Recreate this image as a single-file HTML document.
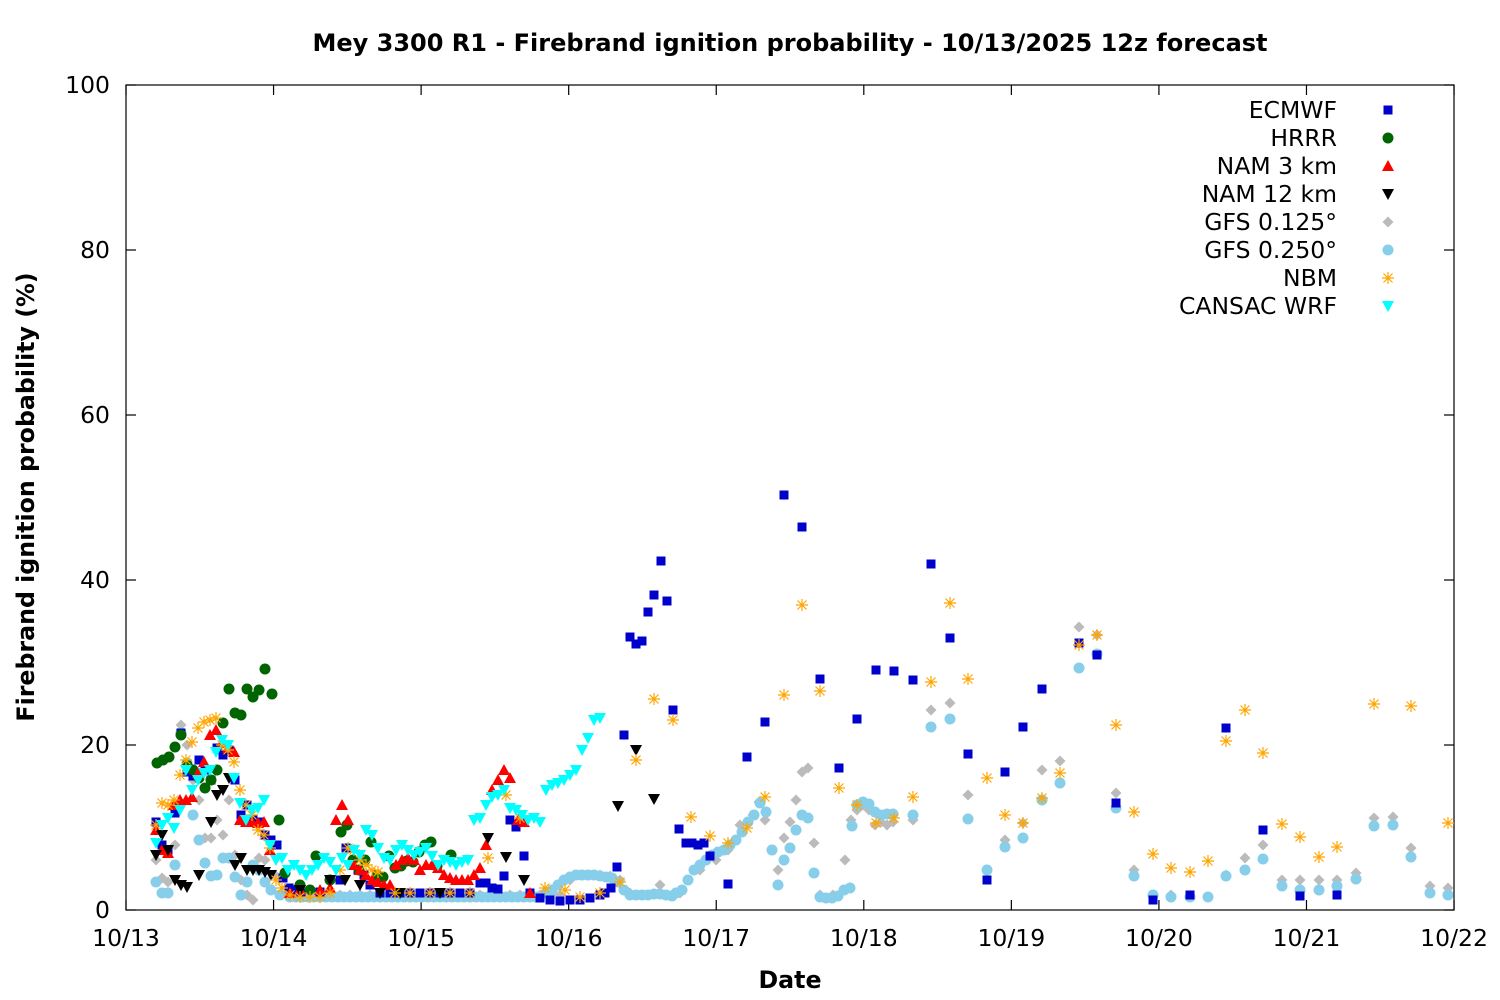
<!DOCTYPE html>
<html><head><meta charset="utf-8"><style>
html,body{margin:0;padding:0;background:#fff}
svg{display:block;font-family:"DejaVu Sans","Liberation Sans",sans-serif}
</style></head><body>
<svg id="s" width="1500" height="1000" xmlns="http://www.w3.org/2000/svg">
<rect width="1500" height="1000" fill="#fff"/>
<text x="790" y="51" text-anchor="middle" font-size="24" font-weight="bold">Mey 3300 R1 - Firebrand ignition probability - 10/13/2025 12z forecast</text>
<text x="790" y="988" text-anchor="middle" font-size="23.7" font-weight="bold">Date</text>
<text transform="translate(34,497) rotate(-90)" text-anchor="middle" font-size="23.7" font-weight="bold">Firebrand ignition probability (%)</text>
<g id="ax" stroke="#000" stroke-width="1.2" fill="none"></g>
<g id="lab" font-size="23.5"></g>
<g id="pts"></g>
<g id="leg" font-size="23.5" text-anchor="end"></g>
</svg>
<script>
const NS="http://www.w3.org/2000/svg";
function el(p,t,a,txt){const e=document.createElementNS(NS,t);for(const k in a)e.setAttribute(k,a[k]);if(txt!==undefined)e.textContent=txt;document.getElementById(p).appendChild(e);return e;}
const L=126,R=1454,T=85,B=910;
el("ax","rect",{x:L,y:T,width:R-L,height:B-T});
for(let i=0;i<=5;i++){const y=B-i*165;
 el("ax","line",{x1:L,y1:y,x2:L+10,y2:y});el("ax","line",{x1:R,y1:y,x2:R-10,y2:y});
 el("lab","text",{x:110,y:y+8,"text-anchor":"end"},String(i*20));}
const days=["10/13","10/14","10/15","10/16","10/17","10/18","10/19","10/20","10/21","10/22"];
for(let i=0;i<10;i++){const x=L+i*147.56;
 el("ax","line",{x1:x,y1:B,x2:x,y2:B-10});el("ax","line",{x1:x,y1:T,x2:x,y2:T+10});
 el("lab","text",{x:x,y:946,"text-anchor":"middle"},days[i]);}
function mk(g,type,c,x,y){
 if(type=="sq")el(g,"rect",{x:x-4.5,y:y-4.5,width:9,height:9,fill:c});
 else if(type=="ci")el(g,"circle",{cx:x,cy:y,r:5.5,fill:c});
 else if(type=="up")el(g,"polygon",{points:`${x},${y-6} ${x-6},${y+5} ${x+6},${y+5}`,fill:c});
 else if(type=="dn")el(g,"polygon",{points:`${x},${y+6} ${x-6},${y-5} ${x+6},${y-5}`,fill:c});
 else if(type=="di")el(g,"polygon",{points:`${x},${y-5.5} ${x+5.5},${y} ${x},${y+5.5} ${x-5.5},${y}`,fill:c});
 else if(type=="as")el(g,"path",{d:`M${x-6} ${y}H${x+6}M${x} ${y-6}V${y+6}M${x-4.5} ${y-4.5}L${x+4.5} ${y+4.5}M${x-4.5} ${y+4.5}L${x+4.5} ${y-4.5}`,stroke:c,"stroke-width":1.2,fill:"none"});
}
function P(s){const a=s.trim().split(/\s+/).map(Number);const r=[];for(let i=0;i<a.length;i+=2)r.push([a[i],a[i+1]]);return r;}
const flat=(x0,x1,y,st)=>{let s="";for(let x=x0;x<=x1;x+=st)s+=x+" "+y+" ";return s;};
const S=[
["gray","di","#bbbbbb",P(`156 860 162 878 168 882 175 845 181 725 187 745 193 780 199 800 205 838 211 838 217 820 223 835 229 800 235 855 241 880 247 895 253 900 259 858 265 860 275 875 290 893 `+flat(300,560,895,10)+` 570 880 580 875 590 875 600 875 610 876 620 880 630 893 660 885 680 893 700 870 716 860 728 850 740 825 753 815 759 802 765 820 772 850 778 870 784 838 790 822 796 800 802 772 808 768 814 843 820 895 833 895 845 860 851 820 857 810 863 805 869 810 875 825 881 822 887 825 893 822 913 820 931 710 950 703 968 795 987 870 1005 840 1023 823 1042 770 1060 761 1079 627 1097 635 1116 793 1134 870 1153 895 1171 895 1190 897 1208 897 1226 875 1245 858 1263 845 1282 880 1300 880 1319 880 1337 880 1356 873 1374 818 1393 817 1411 848 1430 886 1448 888`)],
["lb","ci","#87ceeb",P(`156 882 162 893 168 893 175 865 181 733 187 763 193 815 199 840 205 863 211 876 217 875 223 858 229 858 235 877 241 895 247 882 253 865 259 870 265 882 271 890 280 895 `+flat(290,540,897,6)+` 546 893 552 890 558 885 564 880 570 877 576 875 582 875 588 875 594 875 600 876 606 877 612 878 618 882 624 890 630 895 636 895 642 895 648 895 654 894 660 894 666 895 672 896 676 893 682 890 688 880 694 870 700 865 706 860 712 855 718 852 724 850 730 845 736 840 742 832 748 822 754 815 760 803 766 812 772 850 778 885 784 860 790 848 796 830 802 815 808 818 814 873 820 897 826 898 832 898 838 896 844 890 850 888 852 826 857 805 863 802 869 804 875 812 881 815 887 814 893 814 913 815 931 727 950 719 968 819 987 870 1005 847 1023 838 1042 800 1060 783 1079 668 1097 654 1116 808 1134 876 1153 895 1171 897 1190 897 1208 897 1226 876 1245 870 1263 859 1282 886 1300 890 1319 890 1337 886 1356 879 1374 826 1393 825 1411 857 1430 893 1448 895`)],
["blue","sq","#0000cc",P(`156 822 162 845 168 850 175 813 181 733 187 772 193 776 199 760 205 770 211 780 217 748 223 755 229 750 235 780 241 815 247 805 253 820 259 822 265 835 271 840 277 845 283 878 289 888 295 890 301 893 320 892 340 880 346 848 352 865 358 870 364 875 370 885 380 893 `+flat(390,470,893,10)+` 480 883 486 883 492 888 498 889 504 876 510 820 516 827 524 856 530 893 540 898 550 900 560 901 570 900 580 900 590 898 600 895 605 893 611 888 617 867 624 735 630 637 636 644 642 641 648 612 654 595 661 561 667 601 673 710 679 829 686 843 692 843 698 845 704 843 710 856 728 884 747 757 765 722 784 495 802 527 820 679 839 768 857 719 876 670 894 671 913 680 931 564 950 638 968 754 987 880 1005 772 1023 727 1042 689 1079 643 1097 655 1116 803 1153 900 1190 895 1226 728 1263 830 1300 896 1337 895`)],
["green","ci","#006400",P(`157 763 163 760 169 757 175 747 181 735 187 765 193 770 199 778 205 788 211 780 217 770 223 723 229 689 235 713 241 715 247 689 253 697 259 690 265 669 272 694 279 820 285 873 300 885 310 890 316 856 330 880 341 832 347 825 353 860 359 870 365 860 371 842 377 875 383 877 389 856 395 868 401 866 407 861 413 862 419 852 425 845 431 842 437 866 451 855`)],
["red","up","#ff0000",P(`156 830 162 850 168 853 174 805 180 800 186 800 192 797 198 773 204 762 210 735 216 730 222 743 228 748 234 752 240 820 246 822 252 822 258 823 264 822 270 850 290 893 300 890 320 890 330 888 336 820 342 805 348 820 354 865 360 870 366 875 372 880 378 882 384 885 390 885 396 865 402 860 408 858 414 860 420 870 426 865 432 865 438 868 444 875 450 878 456 880 462 880 468 880 474 875 480 868 486 845 492 790 498 780 504 770 510 778 518 820 524 822 530 893`)],
["black","dn","#000000",P(`156 855 162 835 168 850 175 880 181 885 187 887 199 875 211 822 217 795 223 790 229 778 235 865 241 858 247 870 253 870 259 870 265 872 271 875 300 890 330 880 345 880 360 885 380 893 400 893 440 893 488 838 506 857 524 880 618 806 636 750 654 799`)],
["nbm","as","#ffa500",P(`156 825 162 803 168 805 174 800 180 775 186 760 192 742 198 728 204 722 210 720 216 718 222 745 228 750 234 762 240 790 246 805 252 815 258 830 264 835 270 848 276 880 282 888 290 895 300 897 310 897 320 897 330 893 340 870 348 848 354 850 360 860 366 865 372 870 378 872 395 893 410 893 430 893 450 893 470 893 488 858 506 795 520 818 545 888 565 890 580 897 600 893 620 882 636 760 654 699 673 720 691 817 710 836 728 843 747 828 765 797 784 695 802 605 820 691 839 788 857 805 876 823 894 818 913 797 931 682 950 603 968 679 987 778 1005 815 1023 823 1042 798 1060 773 1079 645 1097 635 1116 725 1134 812 1153 854 1171 868 1190 872 1208 861 1226 741 1245 710 1263 753 1282 824 1300 837 1319 857 1337 847 1374 704 1411 706 1448 823`)],
["cyan","dn","#00ffff",P(`156 843 162 825 168 818 174 828 180 810 186 770 192 790 198 780 204 773 210 770 216 752 222 740 228 745 234 778 240 803 246 820 252 810 258 808 264 800 270 845 276 860 282 858 288 870 294 865 300 870 306 875 312 870 318 865 324 858 330 862 336 870 342 858 348 865 354 850 360 855 366 830 372 835 378 848 384 858 390 860 396 850 402 845 408 850 414 855 420 852 426 848 432 856 438 865 444 860 450 862 456 865 462 862 468 860 474 820 480 818 486 805 492 797 498 795 504 790 510 808 516 810 522 815 528 820 534 818 540 822 546 790 552 785 558 783 564 780 570 775 576 770 582 750 588 738 594 720 600 718`)]
];
for(const [n,t,c,pts] of S){for(const [x,y] of pts)mk("pts",t,c,x,y);}
const leg=[["ECMWF","sq","#0000cc"],["HRRR","ci","#006400"],["NAM 3 km","up","#ff0000"],["NAM 12 km","dn","#000000"],["GFS 0.125°","di","#bbbbbb"],["GFS 0.250°","ci","#87ceeb"],["NBM","as","#ffa500"],["CANSAC WRF","dn","#00ffff"]];
leg.forEach((l,i)=>{const y=110+i*28;el("leg","text",{x:1337,y:y+8},l[0]);mk("leg",l[1],l[2],1388,y);});
</script>
</body></html>
